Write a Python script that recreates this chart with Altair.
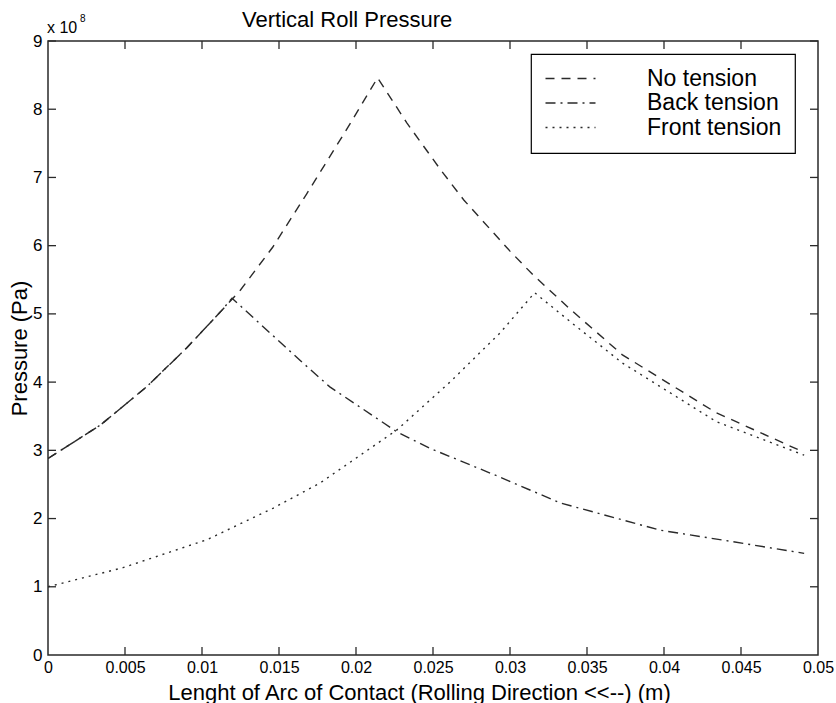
import altair as alt
import pandas as pd

# ---- data (pressure in units of 1e8 Pa) ----
series = ["No tension", "Back tension", "Front tension"]

no_x = [0, 0.0034, 0.0064, 0.009, 0.0112, 0.0125, 0.0146, 0.0168, 0.0196, 0.0214,
        0.0233, 0.0255, 0.027, 0.030, 0.0315, 0.034, 0.0373, 0.0434, 0.0491]
no_y = [2.88, 3.37, 3.93, 4.50, 5.03, 5.35, 5.98, 6.76, 7.78, 8.46,
        7.80, 7.11, 6.67, 5.92, 5.57, 5.05, 4.40, 3.55, 2.97]

back_x = [0, 0.0034, 0.0064, 0.009, 0.0112, 0.01195, 0.01636, 0.0183, 0.02266,
          0.0248, 0.029, 0.03325, 0.03974, 0.0445, 0.0491]
back_y = [2.88, 3.37, 3.93, 4.50, 5.03, 5.23, 4.32, 3.93, 3.27,
          3.03, 2.64, 2.23, 1.83, 1.66, 1.49]

front_x = [0, 0.00487, 0.01032, 0.0146, 0.01766, 0.02266, 0.0261, 0.02935, 0.0316,
           0.034, 0.0373, 0.0434, 0.0491]
front_y = [1.00, 1.28, 1.69, 2.15, 2.52, 3.30, 4.00, 4.72, 5.31,
           4.87, 4.28, 3.42, 2.93]

x_ticks = [0, 0.005, 0.01, 0.015, 0.02, 0.025, 0.03, 0.035, 0.04, 0.045, 0.05]
y_ticks = [0, 1, 2, 3, 4, 5, 6, 7, 8, 9]

title_text = "Vertical Roll Pressure"
x_title = "Lenght of Arc of Contact (Rolling Direction <<--) (m)"
y_title = "Pressure (Pa)"

# ---- build table ----
rows = []
for name, xs, ys in [(series[0], no_x, no_y), (series[1], back_x, back_y), (series[2], front_x, front_y)]:
    for i, (a, b) in enumerate(zip(xs, ys)):
        rows.append({"series": name, "x": a, "p": b, "order": i})
df = pd.DataFrame(rows)

FONT = "Liberation Sans"
INK = "#2a2a2a"
W, H = 770, 614
TL = 8

xscale = alt.Scale(domain=[0, 0.05], nice=False, zero=False)
yscale = alt.Scale(domain=[0, 9], nice=False, zero=False)
dash_scale = alt.Scale(domain=series, range=[[9, 7], [10, 5, 2, 5], [2, 5]])

x_axis = alt.Axis(values=x_ticks, format="~g", title=x_title, ticks=False, domain=False,
                  grid=False, labelFont=FONT, labelFontSize=16, labelColor="black",
                  labelPadding=4, labelFlush=False, titleFont=FONT, titleFontSize=22,
                  titleFontWeight="normal", titleColor="black", titleX=371, titleY=44,
                  titleBaseline="alphabetic", titleAlign="center")
y_axis = alt.Axis(values=y_ticks, format="d", title=y_title, ticks=False, domain=False,
                  grid=False, labelFont=FONT, labelFontSize=17, labelColor="black",
                  labelPadding=6, labelFlush=False, titleFont=FONT, titleFontSize=22,
                  titleFontWeight="normal", titleColor="black", titleX=-22, titleY=307,
                  titleBaseline="alphabetic", titleAlign="center")

lines = alt.Chart(df).mark_line(color=INK, strokeWidth=1.4, clip=True).encode(
    x=alt.X("x:Q", scale=xscale, axis=x_axis),
    y=alt.Y("p:Q", scale=yscale, axis=y_axis),
    strokeDash=alt.StrokeDash("series:N", scale=dash_scale, sort=series,
                              legend=alt.Legend(title=None, orient="none", legendX=483, legendY=13,
                                                symbolType="M-1,0H4", symbolSize=400,
                                                symbolStrokeWidth=1.4, symbolStrokeColor=INK,
                                                symbolFillColor="transparent",
                                                labelFont=FONT, labelFontSize=23, labelColor="black",
                                                labelOffset=80, padding=13, rowPadding=0.5,
                                                strokeColor="black", fillColor="white")),
    order="order:Q",
)

xt_df = pd.DataFrame({"x": x_ticks[1:-1]})
yt_df = pd.DataFrame({"p": y_ticks[1:]})

bottom_ticks = alt.Chart(xt_df).mark_rule(color=INK, strokeWidth=1.3).encode(
    x=alt.X("x:Q", scale=xscale, axis=x_axis), y=alt.value(H), y2=alt.value(H - TL))
top_ticks = alt.Chart(xt_df).mark_rule(color=INK, strokeWidth=1.3).encode(
    x=alt.X("x:Q", scale=xscale, axis=x_axis), y=alt.value(0), y2=alt.value(TL))
left_ticks = alt.Chart(yt_df).mark_rule(color=INK, strokeWidth=1.3).encode(
    y=alt.Y("p:Q", scale=yscale, axis=y_axis), x=alt.value(0), x2=alt.value(TL))
right_ticks = alt.Chart(yt_df).mark_rule(color=INK, strokeWidth=1.3).encode(
    y=alt.Y("p:Q", scale=yscale, axis=y_axis), x=alt.value(W), x2=alt.value(W - TL))

ann = pd.DataFrame({"title": [title_text], "mult": ["x 10"], "exp": ["8"]})
title_mark = alt.Chart(ann).mark_text(font=FONT, fontSize=22, align="left", baseline="alphabetic",
                                      color="black").encode(
    text="title:N", x=alt.value(194), y=alt.value(-14))
mult_mark = alt.Chart(ann).mark_text(font=FONT, fontSize=16, align="left", baseline="alphabetic",
                                     color="black").encode(
    text="mult:N", x=alt.value(-1), y=alt.value(-8))
exp_mark = alt.Chart(ann).mark_text(font=FONT, fontSize=10, align="left", baseline="alphabetic",
                                    color="black").encode(
    text="exp:N", x=alt.value(32), y=alt.value(-19))

chart = alt.layer(lines, bottom_ticks, top_ticks, left_ticks, right_ticks,
                  title_mark, mult_mark, exp_mark).properties(
    width=W, height=H,
    autosize=alt.AutoSizeParams(type="none"),
    padding={"left": 48, "top": 41, "right": 18, "bottom": 48},
    background="white",
).configure_view(stroke=INK, strokeWidth=1.5).configure_legend(strokeWidth=1.2)

chart.save("out.html", embed_options={"renderer": "svg", "actions": False})
